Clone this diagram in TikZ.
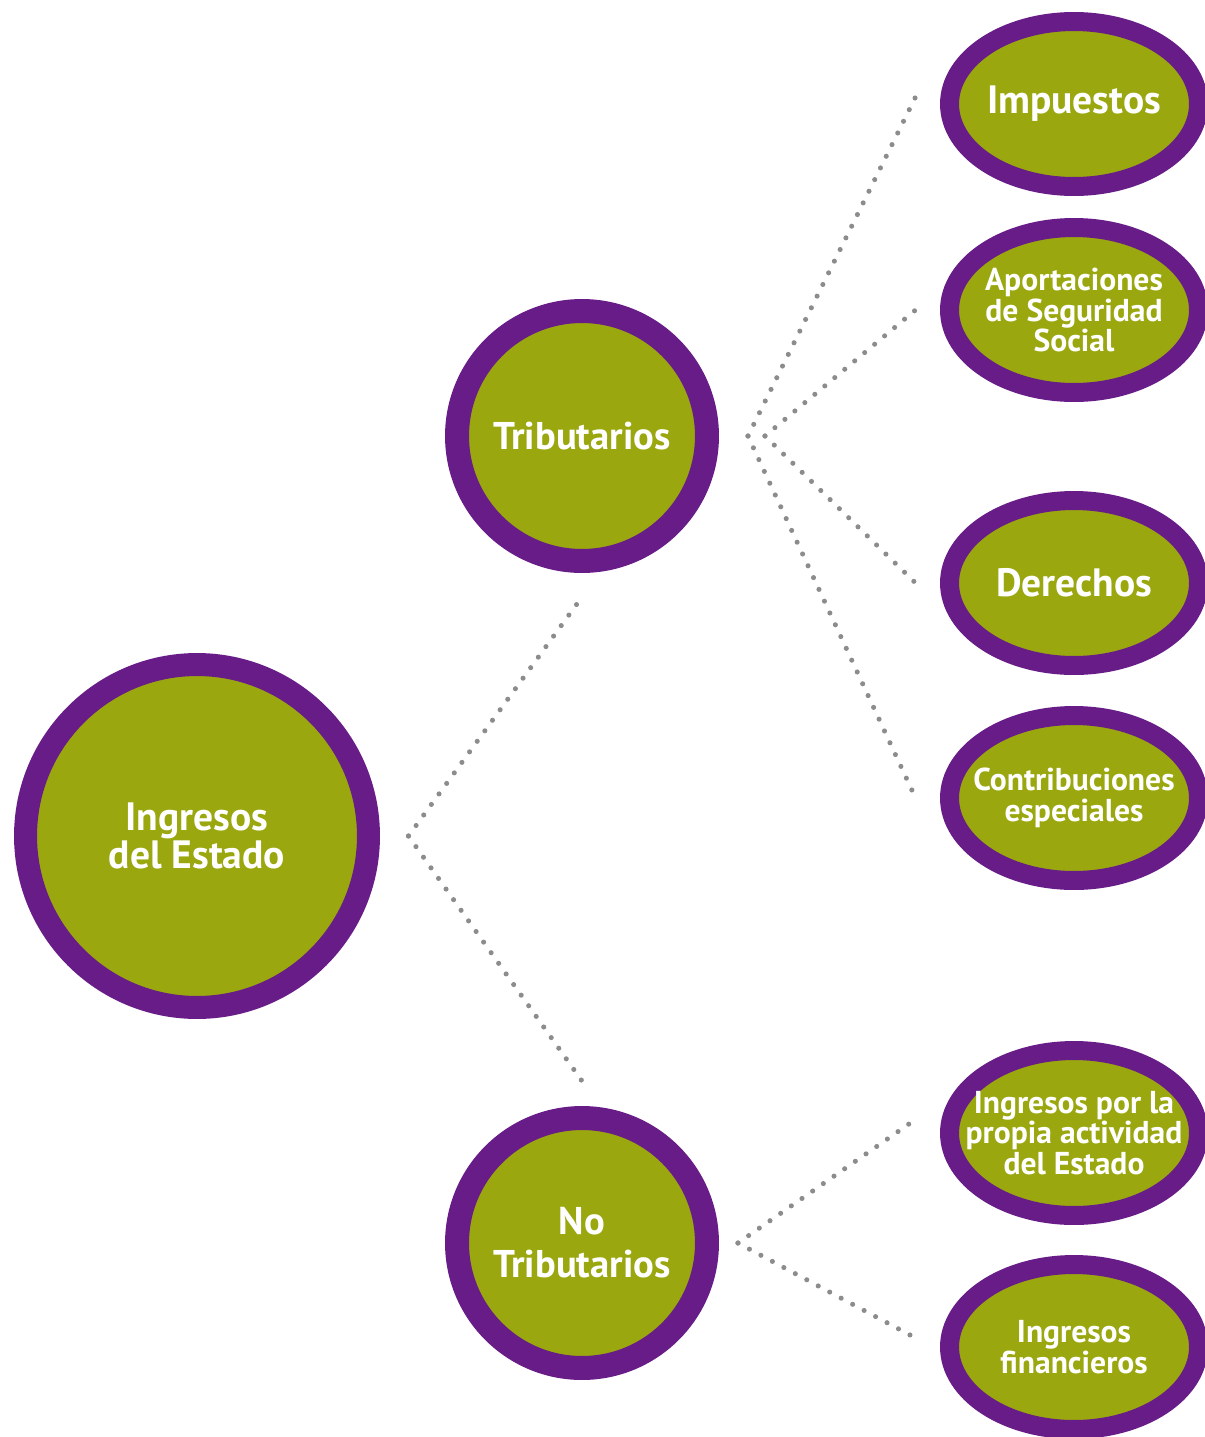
\documentclass[tikz,border=0pt]{standalone}
\usepackage{fontspec}
\setmainfont{PT Sans}
\usepackage{tikz}
\usetikzlibrary{shapes.geometric}

\definecolor{morado}{RGB}{104,28,136}
\definecolor{verde}{RGB}{154,167,15}
\definecolor{punto}{RGB}{140,140,140}

\tikzset{
	raiz/.style={circle, draw=morado, fill=verde, line width=0.46cm, minimum size=6.86cm, inner sep=0pt,
		text=white, align=center, font=\bfseries\fontsize{22.5}{19}\selectfont},
	rama/.style={circle, draw=morado, fill=verde, line width=0.48cm, minimum size=5cm, inner sep=0pt,
		text=white, align=center, font=\bfseries\fontsize{22}{24.6}\selectfont},
	hoja/.style={ellipse, draw=morado, fill=verde, line width=0.38cm, minimum width=4.98cm, minimum height=3.3cm,
		inner sep=0pt, label={[hojatexto]center:#1}},
	hojatexto/.style={text=white, align=center, font=\bfseries\fontsize{18}{17.5}\selectfont},
	puntos/.style={draw=punto, line width=2.9pt, line cap=round, dash pattern=on 0pt off 7.4pt}
}

\begin{document}
\begin{tikzpicture}[x=0.02cm, y=-0.02cm]
	\useasboundingbox (0,0) rectangle (1204,1437);

	\node[raiz] (ingresos) at (197,836) {Ingresos\\del Estado};
	\node[rama] (trib) at (582,436) {Tributarios};
	\node[rama] (notrib) at (582,1243) {No\\Tributarios};

	\node[hoja={\fontsize{22.5}{22}\selectfont Impuestos}] (imp) at (1074,104) {};
	\node[hoja={Aportaciones\\de Seguridad\\Social}] (aport) at (1074,310) {};
	\node[hoja={\fontsize{22.5}{22}\selectfont Derechos}] (der) at (1074,583) {};
	\node[hoja={Contribuciones\\especiales}] (contrib) at (1074,798) {};
	\node[hoja={Ingresos por la\\propia actividad\\del Estado}] (propia) at (1074,1133) {};
	\node[hoja={Ingresos\\financieros}] (finan) at (1074,1347) {};

	\coordinate (ing-sal) at ([xshift=0.57cm]ingresos.east);
	\coordinate (trib-a) at ([xshift=0.58cm]trib.east);
	\coordinate (trib-b) at ([xshift=0.92cm]trib.east);
	\coordinate (notrib-sal) at ([xshift=0.38cm]notrib.east);

	\draw[puntos] (ing-sal) -- ([yshift=-0.48cm]trib.south);
	\draw[puntos] (ing-sal) -- ([yshift=0.5cm]notrib.north);

	\draw[puntos] (trib-a) -- ([xshift=-0.49cm, yshift=0.14cm]imp.west);
	\draw[puntos] (trib-b) -- ([xshift=-0.49cm]aport.west);
	\draw[puntos] (trib-b) -- ([xshift=-0.49cm]der.west);
	\draw[puntos] (trib-a) -- ([xshift=-0.49cm]contrib.west);

	\draw[puntos] (notrib-sal) -- ([xshift=-0.45cm, yshift=0.3cm]propia.west);
	\draw[puntos] (notrib-sal) -- ([xshift=-0.45cm, yshift=0.16cm]finan.west);
\end{tikzpicture}
\end{document}
